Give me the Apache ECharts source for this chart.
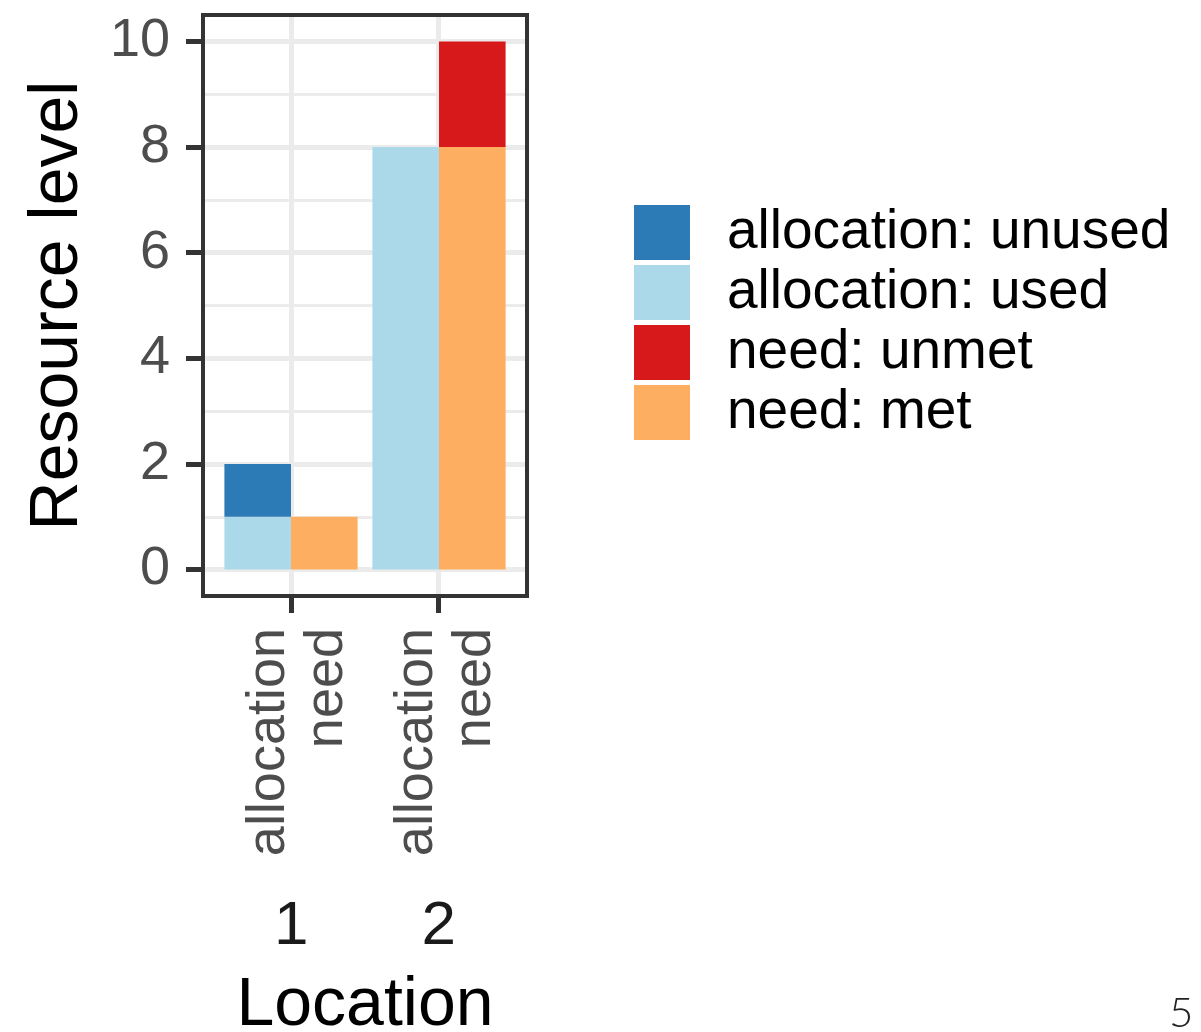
<!DOCTYPE html>
<html><head><meta charset="utf-8">
<script src="https://cdn.jsdelivr.net/npm/echarts@6/dist/echarts.min.js"></script>
<style>html,body{margin:0;padding:0;background:#fff}#c{width:1201px;height:1032px}</style>
</head><body><div id="c"></div>
<script>
// ---- data ----
const locations = ['1', '2'];
const locationPos = [1, 2];
const typeLabels = ['allocation', 'need'];
const allocationUsed = [1, 8];
const allocationUnused = [1, 0];
const needMet = [1, 8];
const needUnmet = [0, 2];
const yTicks = [0, 2, 4, 6, 8, 10];
const yMinor = [1, 3, 5, 7, 9];
const legendOrder = ['allocation: unused', 'allocation: used', 'need: unmet', 'need: met'];
const pageNumber = '5';

const FONT = 'Liberation Sans, Arial, Helvetica, sans-serif';
function barSeries(name, stack, vals, color) {
  return { name, type: 'bar', stack, data: vals, xAxisIndex: 2, yAxisIndex: 2,
    barWidth: '45%', barGap: '0%',
    itemStyle: { color }, emphasis: { disabled: true }, animation: false };
}

const chart = echarts.init(document.getElementById('c'), null, { renderer: 'canvas' });
chart.setOption({
  animation: false,
  textStyle: { fontFamily: FONT },
  title: { text: pageNumber, left: 1169, top: 992, padding: 0,
    textStyle: { fontFamily: 'Lato, ' + FONT, fontWeight: 300, fontSize: 42, color: '#222' } },
  grid: [
    { left: 203, top: 15, width: 324, height: 581, show: true, z: 10, outerBoundsMode: 'none',
      containLabel: false, backgroundColor: 'transparent', borderColor: '#333333', borderWidth: 4 },
    { left: 217, top: 15, width: 296, height: 581, show: false, outerBoundsMode: 'none', containLabel: false }
  ],
  legend: { orient: 'vertical', left: 634, top: 205, padding: 0, itemWidth: 56, itemHeight: 55, itemGap: 5,
    icon: 'rect', data: legendOrder, selectedMode: false,
    textStyle: { fontSize: 55, color: '#000', fontFamily: FONT, padding: [0, 0, 0, 32] } },
  xAxis: [
    { type: 'value', gridIndex: 0, min: 0.4, max: 2.6, position: 'bottom',
      axisLine: { show: false, onZero: false },
      axisTick: { show: true, customValues: locationPos, length: 17, lineStyle: { color: '#333', width: 5 } },
      axisLabel: { customValues: locationPos, formatter: () => '{gap| }\n' + typeLabels.join('\n'), rotate: 90,
        fontSize: 54, lineHeight: 58, color: '#4D4D4D', margin: 32, fontFamily: FONT,
        rich: { gap: { fontSize: 2, lineHeight: 14 } } },
      splitLine: { show: true, lineStyle: { color: '#EBEBEB', width: 5 } },
      name: 'Location', nameLocation: 'middle', nameGap: 376,
      nameTextStyle: { fontSize: 68, color: '#000', fontFamily: FONT } },
    { type: 'value', gridIndex: 0, min: 0.4, max: 2.6, position: 'bottom', offset: 0,
      axisLine: { show: false, onZero: false }, axisTick: { show: false }, splitLine: { show: false },
      axisLabel: { customValues: locationPos, formatter: (v) => locations[locationPos.indexOf(v)],
        fontSize: 62, color: '#1A1A1A', margin: 300, fontFamily: FONT } },
    { type: 'category', gridIndex: 1, data: locations, show: false, axisLine: { onZero: false } }
  ],
  yAxis: [
    { type: 'value', gridIndex: 0, min: -0.5, max: 10.5, position: 'left',
      axisLine: { show: false, onZero: false },
      axisTick: { show: true, customValues: yTicks, length: 17, lineStyle: { color: '#333', width: 5 } },
      axisLabel: { customValues: yTicks, fontSize: 54, color: '#4D4D4D', margin: 33, fontFamily: FONT },
      splitLine: { show: true, lineStyle: { color: '#EBEBEB', width: 5 } },
      name: 'Resource level', nameLocation: 'middle', nameRotate: 90, nameGap: 111,
      nameTextStyle: { fontSize: 68, color: '#000', fontFamily: FONT } },
    { type: 'value', gridIndex: 0, min: -0.5, max: 10.5, position: 'right',
      axisLine: { show: false, onZero: false },
      axisTick: { show: false, customValues: yMinor },
      axisLabel: { show: false, customValues: yMinor },
      splitLine: { show: true, lineStyle: { color: '#EBEBEB', width: 3 } } },
    { type: 'value', gridIndex: 1, min: -0.5, max: 10.5, show: false, splitLine: { show: false } }
  ],
  series: [
    barSeries('allocation: used', 'allocation', allocationUsed, '#ABD9E9'),
    barSeries('allocation: unused', 'allocation', allocationUnused, '#2C7BB6'),
    barSeries('need: met', 'need', needMet, '#FDAE61'),
    barSeries('need: unmet', 'need', needUnmet, '#D7191C')
  ]
});
</script></body></html>
